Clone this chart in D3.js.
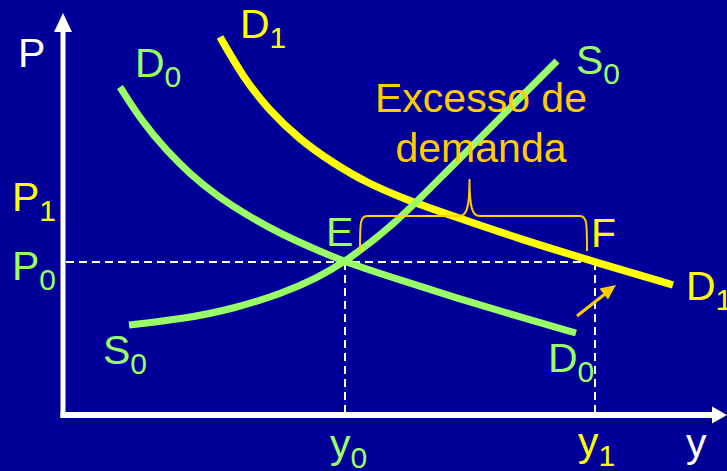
<!DOCTYPE html>
<html>
<head>
<meta charset="utf-8">
<script src="https://cdn.jsdelivr.net/npm/d3@7"></script>
<style>
  html, body { margin: 0; padding: 0; background: #000099; }
  svg { display: block; }
  text { font-family: "Liberation Sans", Arial, sans-serif; }
</style>
</head>
<body>
<svg id="chart" width="727" height="471"></svg>
<script>
// ---- data (quantity, price) ----
const supplyS0Q = [66, 120, 170, 220, 254, 282, 330, 382, 437, 494];
const supplyS0P = [90, 96, 106, 122, 137, 153, 189, 242, 297, 354];

const demandD0Q = [57, 80, 104, 127, 154, 187, 220, 254, 282, 337, 397, 457, 513];
const demandD0P = [328, 292, 264, 241, 219, 198, 180, 165, 153, 135, 116, 98, 82];

const demandD1Q = [157, 180, 204, 237, 270, 304, 344, 387, 457, 532, 610];
const demandD1P = [378, 338, 307, 275, 252, 232, 215, 200, 176, 153, 130];

const eqQ0 = 282;   // y0
const eqQ1 = 532;   // y1
const eqP0 = 153;   // P0

const annotationLines = ["Excesso de", "demanda"];

// ---- colours ----
const WHITE = "#ffffff", GREEN = "#99ff66", YELLOW = "#ffff00", ORANGE = "#ffcc00";

const svg = d3.select("#chart");
svg.append("rect").attr("width", 727).attr("height", 471).attr("fill", "#000099");

const x = d3.scaleLinear().domain([0, 664]).range([63, 727]);
const y = d3.scaleLinear().domain([0, 402]).range([415, 13]);

const line = d3.line().x(d => x(d[0])).y(d => y(d[1])).curve(d3.curveBasis);
const zip = (a, b) => a.map((v, i) => [v, b[i]]);

// dashed guide lines
const dash = svg.append("g").attr("stroke", WHITE).attr("stroke-width", 2)
  .attr("stroke-dasharray", "8,5").attr("fill", "none");
dash.append("line").attr("x1", x(0) + 3).attr("x2", x(eqQ1)).attr("y1", y(eqP0)).attr("y2", y(eqP0));
dash.append("line").attr("x1", x(eqQ0)).attr("x2", x(eqQ0)).attr("y1", y(eqP0)).attr("y2", y(0));
dash.append("line").attr("x1", x(eqQ1)).attr("x2", x(eqQ1)).attr("y1", y(eqP0)).attr("y2", y(0));

// axes
const ax = svg.append("g");
ax.append("line").attr("x1", x(0)).attr("x2", x(0)).attr("y1", y(0) + 3).attr("y2", 30)
  .attr("stroke", WHITE).attr("stroke-width", 5);
ax.append("path").attr("d", `M${x(0)},13 L${x(0) - 9},32 L${x(0) + 9},32 Z`).attr("fill", WHITE);
ax.append("line").attr("x1", x(0) - 2.5).attr("x2", 715).attr("y1", y(0)).attr("y2", y(0))
  .attr("stroke", WHITE).attr("stroke-width", 6);
ax.append("path").attr("d", `M727,${y(0)} L712,${y(0) - 8.5} L712,${y(0) + 8.5} Z`).attr("fill", WHITE);

// curves
svg.append("path").attr("d", line(zip(demandD0Q, demandD0P)))
  .attr("fill", "none").attr("stroke", GREEN).attr("stroke-width", 7);
svg.append("path").attr("d", line(zip(demandD1Q, demandD1P)))
  .attr("fill", "none").attr("stroke", YELLOW).attr("stroke-width", 7.5);
svg.append("path").attr("d", line(zip(supplyS0Q, supplyS0P)))
  .attr("fill", "none").attr("stroke", GREEN).attr("stroke-width", 7);

// brace between E and F
const bl = x(eqQ0) + 15, br = x(eqQ1) - 8, bt = 216, bb = 251, bm = (x(eqQ0) + x(eqQ1)) / 2 - 0.5, bp = 179;
const braceD = `M${bl},${bb} C${bl},${bt + 8} ${bl},${bt} ${bl + 7},${bt}
  L${bm - 10},${bt} C${bm - 3},${bt} ${bm},${bt - 8} ${bm},${bp}
  C${bm},${bt - 8} ${bm + 3},${bt} ${bm + 10},${bt}
  L${br - 7},${bt} C${br},${bt} ${br},${bt + 8} ${br},${bb}`;
svg.append("path").attr("d", braceD).attr("fill", "none").attr("stroke", ORANGE).attr("stroke-width", 2);

// small arrow pointing to D1
svg.append("line").attr("x1", 577).attr("y1", 316).attr("x2", 605).attr("y2", 294)
  .attr("stroke", ORANGE).attr("stroke-width", 3);
svg.append("path").attr("d", "M616,285 L599.5,288.5 L608,299.5 Z").attr("fill", ORANGE);

// labels
const labels = [
  { t: "P", s: "", x: 18, y: 67, c: WHITE },
  { t: "D", s: "0", x: 135, y: 77, c: GREEN },
  { t: "D", s: "1", x: 240, y: 38, c: YELLOW },
  { t: "S", s: "0", x: 576, y: 74, c: GREEN },
  { t: "P", s: "1", x: 12, y: 211, c: YELLOW },
  { t: "P", s: "0", x: 12, y: 280, c: GREEN },
  { t: "E", s: "", x: 326, y: 246, c: GREEN },
  { t: "F", s: "", x: 591, y: 247, c: YELLOW },
  { t: "D", s: "1", x: 686, y: 300, c: YELLOW },
  { t: "S", s: "0", x: 103, y: 364, c: GREEN },
  { t: "D", s: "0", x: 548, y: 372, c: GREEN },
  { t: "y", s: "0", x: 330, y: 458, c: GREEN },
  { t: "y", s: "1", x: 578, y: 456, c: YELLOW },
  { t: "y", s: "", x: 686, y: 457, c: WHITE }
];
labels.forEach(l => {
  const t = svg.append("text").attr("x", l.x).attr("y", l.y).attr("fill", l.c)
    .attr("font-size", 41).text(l.t);
  if (l.s) t.append("tspan").attr("dy", 10).attr("font-size", 30).text(l.s);
});

annotationLines.forEach((s, i) => {
  svg.append("text").attr("x", 481).attr("y", 112 + i * 50).attr("text-anchor", "middle")
    .attr("fill", ORANGE).attr("font-size", 41).text(s);
});
</script>
</body>
</html>
